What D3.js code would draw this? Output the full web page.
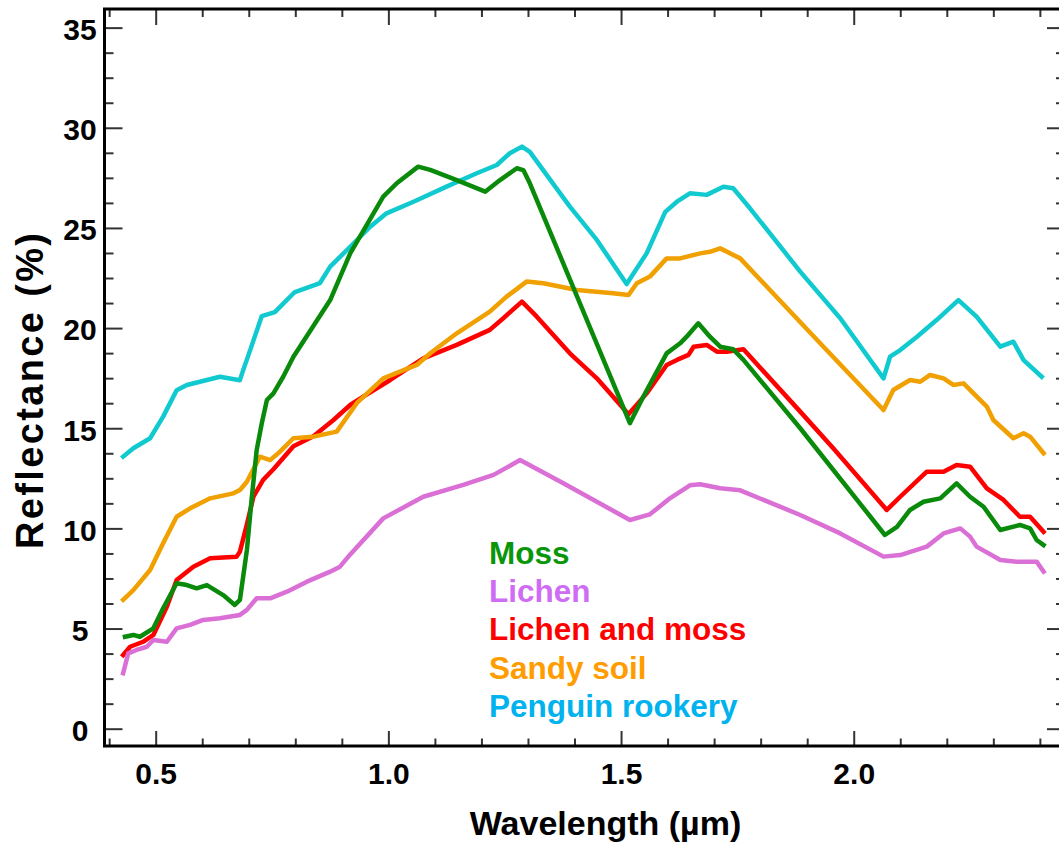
<!DOCTYPE html>
<html>
<head>
<meta charset="utf-8">
<script src="https://cdn.jsdelivr.net/npm/d3@7"></script>
<style>
  body { margin: 0; background: #ffffff; }
  svg { display: block; font-family: "Liberation Sans", Arial, sans-serif; font-weight: bold; }
</style>
</head>
<body>
<div id="spectra"></div>
<script>
// [wavelength (um), reflectance (%)]
const moss = [
    [0.434, 4.59], [0.452, 4.68], [0.466, 4.59], [0.495, 5.01], [0.516, 6.01], [0.545, 7.26],
    [0.567, 7.17], [0.588, 7.01], [0.610, 7.17], [0.645, 6.67], [0.670, 6.18], [0.681, 6.43],
    [0.696, 8.92], [0.706, 11.42], [0.717, 13.91], [0.728, 15.25], [0.739, 16.41], [0.753, 16.74],
    [0.774, 17.57], [0.796, 18.57], [0.875, 21.4], [0.918, 23.73], [0.968, 25.73], [0.989, 26.56],
    [1.018, 27.23], [1.064, 28.06], [1.090, 27.9], [1.147, 27.39], [1.208, 26.81], [1.240, 27.39],
    [1.276, 27.98], [1.290, 27.89], [1.304, 27.23], [1.519, 15.25], [1.548, 16.58],
    [1.598, 18.74], [1.627, 19.24], [1.641, 19.57], [1.666, 20.24], [1.691, 19.57], [1.713, 19.07],
    [1.741, 18.94], [1.763, 18.41], [1.885, 15.0], [2.067, 9.67], [2.093, 10.08], [2.121, 10.92],
    [2.150, 11.33], [2.186, 11.5], [2.221, 12.25], [2.250, 11.58], [2.279, 11.08], [2.315, 9.92],
    [2.357, 10.17], [2.379, 10.0], [2.393, 9.42], [2.408, 9.17]
];

const lichen = [
    [0.430, 2.77], [0.441, 3.76], [0.459, 3.93], [0.481, 4.09], [0.495, 4.43], [0.524, 4.34],
    [0.545, 5.01], [0.574, 5.18], [0.602, 5.43], [0.638, 5.51], [0.681, 5.68], [0.696, 5.93],
    [0.717, 6.51], [0.746, 6.51], [0.782, 6.84], [0.825, 7.34], [0.875, 7.84], [0.896, 8.09],
    [0.918, 8.7], [0.989, 10.5], [1.075, 11.58], [1.161, 12.17], [1.226, 12.67], [1.283, 13.41],
    [1.376, 12.25], [1.519, 10.42], [1.562, 10.7], [1.605, 11.5], [1.648, 12.15], [1.670, 12.2],
    [1.713, 12.0], [1.756, 11.9], [1.885, 10.67], [1.971, 9.75], [2.064, 8.59], [2.100, 8.67],
    [2.157, 9.09], [2.193, 9.75], [2.229, 10.0], [2.250, 9.59], [2.264, 9.09], [2.315, 8.42],
    [2.350, 8.34], [2.393, 8.34], [2.408, 7.84]
];

const lichenMoss = [
    [0.430, 3.68], [0.445, 4.09], [0.473, 4.34], [0.495, 4.68], [0.524, 6.09], [0.545, 7.42],
    [0.581, 8.09], [0.617, 8.51], [0.674, 8.59], [0.681, 8.84], [0.696, 10.2], [0.710, 11.58],
    [0.731, 12.42], [0.753, 12.95], [0.796, 14.1], [0.839, 14.6], [0.882, 15.41], [0.918, 16.16],
    [0.946, 16.58], [1.004, 17.41], [1.075, 18.49], [1.147, 19.16], [1.218, 19.91], [1.247, 20.49],
    [1.287, 21.32], [1.319, 20.57], [1.390, 18.74], [1.448, 17.49], [1.516, 15.7], [1.555, 16.74],
    [1.598, 18.16], [1.620, 18.41], [1.645, 18.66], [1.656, 19.07], [1.684, 19.16], [1.706, 18.82],
    [1.727, 18.82], [1.763, 18.94], [1.885, 15.83], [1.956, 14.0], [2.071, 10.92], [2.100, 11.58],
    [2.157, 12.83], [2.193, 12.83], [2.221, 13.16], [2.250, 13.08], [2.286, 12.0], [2.322, 11.42],
    [2.357, 10.58], [2.379, 10.58], [2.408, 9.83]
];

const sandySoil = [
    [0.430, 6.43], [0.452, 6.92], [0.488, 7.92], [0.516, 9.26], [0.545, 10.58], [0.574, 11.0],
    [0.617, 11.5], [0.667, 11.75], [0.681, 11.92], [0.696, 12.33], [0.724, 13.58], [0.746, 13.41],
    [0.767, 13.83], [0.796, 14.5], [0.839, 14.58], [0.889, 14.83], [0.932, 16.25], [0.989, 17.49],
    [1.061, 18.16], [1.090, 18.74], [1.147, 19.74], [1.218, 20.82], [1.254, 21.57], [1.297, 22.32],
    [1.333, 22.24], [1.405, 21.9], [1.483, 21.74], [1.516, 21.65], [1.534, 22.24], [1.562, 22.57],
    [1.598, 23.48], [1.627, 23.48], [1.670, 23.73], [1.691, 23.81], [1.713, 23.98], [1.756, 23.48],
    [1.820, 21.9], [1.935, 19.07], [2.064, 15.91], [2.085, 16.91], [2.121, 17.41], [2.143, 17.32],
    [2.164, 17.66], [2.193, 17.49], [2.214, 17.16], [2.236, 17.24], [2.286, 16.08], [2.300, 15.41],
    [2.343, 14.5], [2.365, 14.75], [2.379, 14.58], [2.408, 13.75]
];

const penguinRookery = [
    [0.430, 13.58], [0.452, 14.0], [0.488, 14.5], [0.516, 15.58], [0.545, 16.9], [0.567, 17.16],
    [0.595, 17.32], [0.638, 17.57], [0.681, 17.4], [0.688, 17.9], [0.703, 18.9], [0.728, 20.6],
    [0.756, 20.8], [0.799, 21.8], [0.853, 22.25], [0.875, 23.07], [0.918, 24.06], [0.961, 25.06],
    [0.996, 25.73], [1.054, 26.31], [1.125, 27.06], [1.190, 27.73], [1.233, 28.14], [1.261, 28.73],
    [1.287, 29.06], [1.304, 28.8], [1.390, 26.06], [1.448, 24.4], [1.512, 22.2], [1.555, 23.73],
    [1.595, 25.8], [1.620, 26.31], [1.648, 26.73], [1.684, 26.65], [1.720, 27.06], [1.741, 26.98],
    [1.777, 25.98], [1.885, 22.82], [1.971, 20.49], [2.064, 17.49], [2.078, 18.57], [2.100, 18.9],
    [2.136, 19.57], [2.178, 20.4], [2.225, 21.4], [2.264, 20.57], [2.315, 19.07], [2.343, 19.32],
    [2.365, 18.4], [2.404, 17.57]
];

const seriesNames = ["Moss", "Lichen", "Lichen and moss", "Sandy soil", "Penguin rookery"];
const xMajorTicks = [0.5, 1.0, 1.5, 2.0];
const yMajorTicks = [0, 5, 10, 15, 20, 25, 30, 35];

function drawSpectra(divId, xlabel, ylabel) {
    const width = 1059, height = 845;
    const margin = {top: 9, right: -6, bottom: 99, left: 104.5};

    const lineColors = ["#0a8a0a", "#da70d6", "#ff0000", "#f0a000", "#10cad0"];
    const labelColors = ["#0a960a", "#cf6cf4", "#ff0000", "#ff9c00", "#00b2ee"];

    const svg = d3.select(divId)
        .append("svg")
            .attr("width", width)
            .attr("height", height)
            .attr("viewBox", `0 0 ${width} ${height}`);

    const x = d3.scaleLinear()
        .domain([0.39, 2.454])
        .range([margin.left, width - margin.right]);

    const y = d3.scaleLinear()
        .domain([-0.864, 35.93])
        .range([height - margin.bottom, margin.top]);

    const xMinor = d3.range(4, 25).map(d => d / 10).filter(d => !xMajorTicks.includes(d));
    const yMinor = d3.range(1, 29).map(d => d * 1.25).filter(d => d % 5 !== 0);

    // spectra: drawn back to front
    const line = d3.line()
        .x(d => x(d[0]))
        .y(d => y(d[1]));

    const series = [penguinRookery, lichenMoss, sandySoil, lichen, moss];
    const seriesIdx = [4, 2, 3, 1, 0];

    svg.selectAll(".spectrum")
        .data(series)
        .join("path")
            .attr("class", "spectrum")
            .attr("fill", "none")
            .attr("stroke", (d, i) => lineColors[seriesIdx[i]])
            .attr("stroke-width", 4.5)
            .attr("stroke-linejoin", "round")
            .attr("stroke-linecap", "square")
            .attr("d", line);

    // axes: ticks inward on all four sides
    const tickStyle = g => {
        g.select(".domain").remove();
        g.selectAll(".tick line").attr("stroke", "#333").attr("stroke-width", 2);
    };

    svg.append("g")
        .attr("transform", `translate(${margin.left},0)`)
        .call(d3.axisLeft(y).tickValues(yMinor).tickSize(-9).tickFormat(""))
        .call(tickStyle);
    svg.append("g")
        .attr("transform", `translate(${width - margin.right},0)`)
        .call(d3.axisRight(y).tickValues(yMinor).tickSize(-9).tickFormat(""))
        .call(tickStyle);
    svg.append("g")
        .attr("transform", `translate(${width - margin.right},0)`)
        .call(d3.axisRight(y).tickValues(yMajorTicks).tickSize(-18).tickFormat(""))
        .call(tickStyle);

    const yAxis = svg.append("g")
        .attr("transform", `translate(${margin.left},0)`)
        .call(d3.axisLeft(y).tickValues(yMajorTicks).tickSize(-18).tickPadding(0))
        .call(tickStyle);
    yAxis.selectAll(".tick text")
        .attr("x", 80 - margin.left)
        .attr("dy", "0.36em")
        .attr("y", 1)
        .style("text-anchor", "middle")
        .style("font-family", "Liberation Sans, Arial, sans-serif")
        .style("font-weight", 700)
        .style("font-size", "30px")
        .style("fill", "#000");

    const yBottom = height - margin.bottom;
    svg.append("g")
        .attr("transform", `translate(0,${yBottom})`)
        .call(d3.axisBottom(x).tickValues(xMinor).tickSize(-7.5).tickFormat(""))
        .call(tickStyle);
    svg.append("g")
        .attr("transform", `translate(0,${margin.top})`)
        .call(d3.axisTop(x).tickValues(xMinor).tickSize(-8).tickFormat(""))
        .call(tickStyle);
    svg.append("g")
        .attr("transform", `translate(0,${margin.top})`)
        .call(d3.axisTop(x).tickValues(xMajorTicks).tickSize(-16).tickFormat(""))
        .call(tickStyle);

    const xAxis = svg.append("g")
        .attr("transform", `translate(0,${yBottom})`)
        .call(d3.axisBottom(x).tickValues(xMajorTicks).tickSize(-15).tickFormat(d3.format(".1f")))
        .call(tickStyle);
    xAxis.selectAll(".tick text")
        .attr("y", 38)
        .attr("dy", 0)
        .style("font-family", "Liberation Sans, Arial, sans-serif")
        .style("font-weight", 700)
        .style("font-size", "30px")
        .style("fill", "#000");

    // frame
    svg.append("rect")
        .attr("x", margin.left)
        .attr("y", margin.top)
        .attr("width", width - margin.right - margin.left)
        .attr("height", yBottom - margin.top)
        .attr("fill", "none")
        .attr("stroke", "#000")
        .attr("stroke-width", 3);

    // axis titles
    svg.append("text")
        .attr("x", 605.5)
        .attr("y", 835)
        .style("text-anchor", "middle")
        .style("font-size", "34px")
        .text(xlabel);

    svg.append("text")
        .attr("transform", "translate(42.5,391) rotate(-90)")
        .attr("textLength", 316)
        .attr("lengthAdjust", "spacing")
        .style("text-anchor", "middle")
        .style("font-size", "38px")
        .text(ylabel);

    // legend
    svg.selectAll(".legend-label")
        .data(seriesNames)
        .join("text")
            .attr("class", "legend-label")
            .attr("x", 489)
            .attr("y", (d, i) => 564 + i * 38.2)
            .style("font-size", "31.5px")
            .style("fill", (d, i) => labelColors[i])
            .text(d => d);
}

drawSpectra("#spectra", "Wavelength (\u00b5m)", "Reflectance (%)");
</script>
</body>
</html>
